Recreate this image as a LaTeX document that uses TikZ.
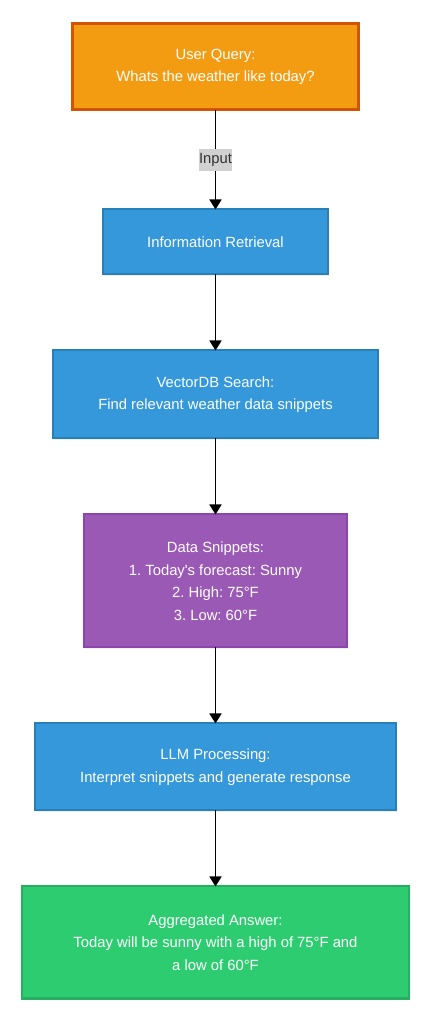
\documentclass[tikz,border=0pt]{standalone}
\usepackage{fontspec}
\setmainfont{Liberation Sans}
\usepackage{tikz}
\usetikzlibrary{arrows.meta,positioning,shadows}
\definecolor{qfill}{HTML}{F39C12}
\definecolor{qline}{HTML}{D35400}
\definecolor{bfill}{HTML}{3498DB}
\definecolor{bline}{HTML}{2980B9}
\definecolor{pfill}{HTML}{9B59B6}
\definecolor{pline}{HTML}{8E44AD}
\definecolor{gfill}{HTML}{2ECC71}
\definecolor{gline}{HTML}{27AE60}
\tikzstyle{box} = [rectangle, text=white, align=center, inner sep=0pt, outer sep=0pt, font=\fontsize{14.8}{22.5}\selectfont, drop shadow={opacity=0.12, shadow xshift=1pt, shadow yshift=-1.5pt}]
\tikzstyle{arrow} = [line width=1.8pt, -{Triangle[length=10pt,width=12pt]}]
\frenchspacing

\begin{document}
\begin{tikzpicture}[
query/.style={box,fill=qfill,draw=qline,line width=3pt},
task/.style={box,fill=bfill,draw=bline,line width=2pt},
snippet/.style={box,fill=pfill,draw=pline,line width=2pt},
answer/.style={box,fill=gfill,draw=gline,line width=2pt},
tag/.style={fill=black!18,text=black!80,inner xsep=0.5pt,inner ysep=0pt,minimum height=22pt,font=\fontsize{14.8}{16}\selectfont},
every matrix/.style={ampersand replacement=\&,row sep=74pt,inner sep=0pt,outer sep=0pt}]

\useasboundingbox (0,0) rectangle (434pt,1025pt);

\matrix[anchor=north] at (215.5pt,1002.5pt) {
\node[query,minimum width=286pt,minimum height=86pt] (query) {User Query:\\Whats the weather like today?};\\[23pt]
\node[task,minimum width=225pt,minimum height=65pt] (retrieval) {Information Retrieval};\\
\node[task,minimum width=324pt,minimum height=88pt] (search) {VectorDB Search:\\Find relevant weather data snippets};\\
\node[snippet,minimum width=263pt,minimum height=133pt] (snippets) {Data Snippets:\\1. Today\textquotesingle s forecast: Sunny\\2. High: 75°F\\3. Low: 60°F};\\
\node[task,minimum width=361pt,minimum height=87pt] (llm) {LLM Processing:\\Interpret snippets and generate response};\\
\node[answer,minimum width=387pt,minimum height=112pt] (answer) {Aggregated Answer:\\Today will be sunny with a high of 75°F and\\a low of 60°F};\\
};

\draw[arrow] (query) -- node[tag] (input) {Input} (retrieval);
\draw[arrow] (retrieval) -- (search);
\draw[arrow] (search) -- (snippets);
\draw[arrow] (snippets) -- (llm);
\draw[arrow] (llm) -- (answer);
\end{tikzpicture}
\end{document}
